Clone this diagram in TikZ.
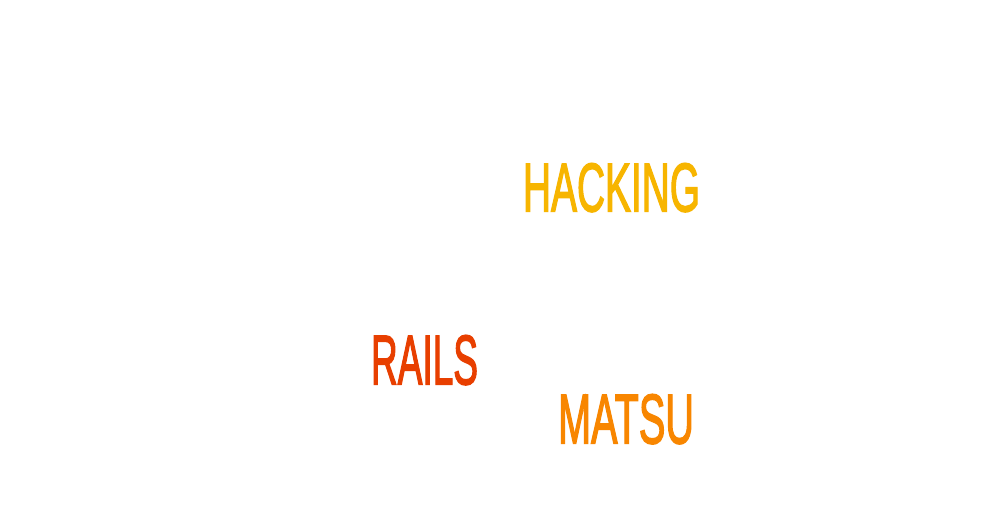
\documentclass[tikz,border=0pt]{standalone}
\usepackage{fontspec}
\setmainfont{Liberation Sans}
\newfontfamily\wordfont[FakeBold=2.5]{Liberation Sans}
\usepackage{graphicx}
\definecolor{hackc}{HTML}{F7B500}
\definecolor{railc}{HTML}{E83F00}
\definecolor{matsuc}{HTML}{F88600}
\tikzset{word/.style={anchor=south west,inner sep=0pt,outer sep=0pt,font=\wordfont}}
\begin{document}
\begin{tikzpicture}[x=1pt,y=1pt]
\fill[white] (0,0) rectangle (988,525);
\useasboundingbox (0,0) rectangle (988,525);
\node[word,text=hackc] (h) at (523,525-212) {\resizebox{177pt}{48pt}{HACKING}};
\node[word,text=railc] (r) at (371,525-385) {\resizebox{107pt}{49pt}{RAILS}};
\node[word,text=matsuc] (m) at (558,525-444) {\resizebox{136pt}{49pt}{MATSU}};
\end{tikzpicture}
\end{document}
